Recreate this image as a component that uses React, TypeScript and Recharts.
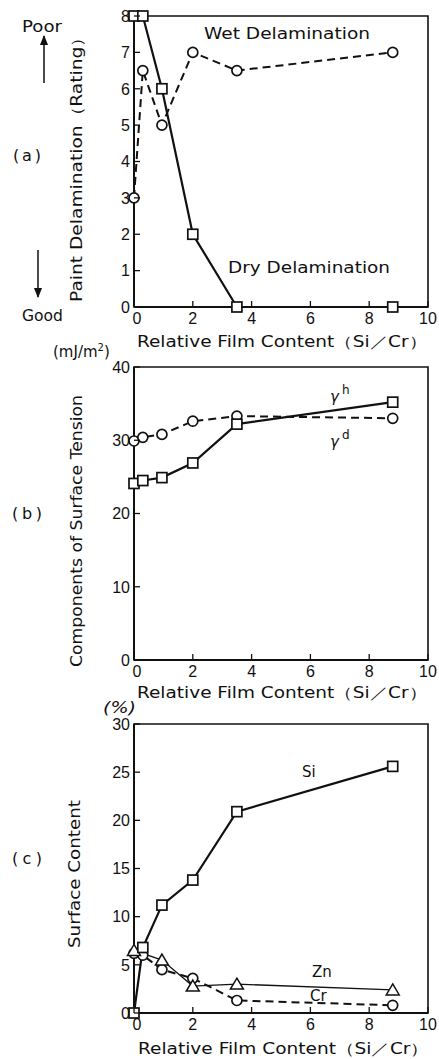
import { LineChart, Line, XAxis, YAxis, ReferenceArea } from "recharts";

// x positions shared by most series (relative film content Si/Cr)
const relContent = [0, 0.3, 0.95, 2, 3.5, 8.8];
const znRelContent = [0, 0.95, 2, 3.5, 8.8];

// (a) paint delamination rating
const dryDelamination = [8, 8, 6, 2, 0, 0];
const wetDelamination = [3, 6.5, 5, 7, 6.5, 7];

// (b) components of surface tension, mJ/m2
const gammaH = [24.1, 24.5, 24.9, 26.9, 32.2, 35.2];
const gammaD = [29.9, 30.4, 30.8, 32.6, 33.3, 33.0];

// (c) surface content, %
const siContent = [0, 6.8, 11.2, 13.8, 20.9, 25.6];
const znContent = [6.5, 5.5, 2.8, 3.0, 2.4];
const crContent = [6.2, 6.0, 4.5, 3.6, 1.3, 0.8];

const xTicks = [0, 2, 4, 6, 8, 10];
const ticksA = [0, 1, 2, 3, 4, 5, 6, 7, 8];
const ticksB = [0, 10, 20, 30, 40];
const ticksC = [0, 5, 10, 15, 20, 25, 30];

const xTitle = "Relative Film Content（Si／Cr）";

const INK = "#111";
const TICK_FONT = "'Liberation Sans', Arial, sans-serif";
const TEXT_FONT = "'DejaVu Sans', sans-serif";
const TM = 4;

const pts = (xs: number[], ys: number[]) => xs.map((x, i) => ({ x, y: ys[i] }));

const Square = (p: any) => (
  <rect key={p.key} x={p.cx - 5} y={p.cy - 5} width={10} height={10} fill="#fff" stroke={INK} strokeWidth={1.7} />
);
const Circle = (p: any) => (
  <circle key={p.key} cx={p.cx} cy={p.cy} r={5} fill="#fff" stroke={INK} strokeWidth={1.7} />
);
const Triangle = (p: any) => (
  <path
    key={p.key}
    d={`M${p.cx},${p.cy - 6} L${p.cx + 6.5},${p.cy + 5} L${p.cx - 6.5},${p.cy + 5} Z`}
    fill="#fff"
    stroke={INK}
    strokeWidth={1.5}
  />
);

const LeftTick = (p: any) => {
  const ax = p.x + TM;
  return (
    <g>
      <line x1={ax} x2={ax + 6} y1={p.y} y2={p.y} stroke={INK} strokeWidth={1.3} />
      <text x={p.x} y={p.y} dy="0.36em" textAnchor="end" fontFamily={TICK_FONT} fontSize={16} fill={INK}>
        {p.payload.value}
      </text>
    </g>
  );
};

const BottomTick = (p: any) => {
  const ay = p.y - TM;
  return (
    <g>
      <line x1={p.x} x2={p.x} y1={ay} y2={ay - 6} stroke={INK} strokeWidth={1.3} />
      <text x={p.x + (p.payload.value === 0 ? 3 : 0)} y={p.y} dy="0.8em" textAnchor="middle" fontFamily={TICK_FONT} fontSize={16} fill={INK}>
        {p.payload.value}
      </text>
    </g>
  );
};

function Panel({
  top,
  height,
  marginTop,
  marginBottom,
  yMax,
  yTicks,
  children,
}: {
  top: number;
  height: number;
  marginTop: number;
  marginBottom: number;
  yMax: number;
  yTicks: number[];
  children: any;
}) {
  return (
    <div style={{ position: "absolute", left: 0, top }}>
      <LineChart width={439} height={height} margin={{ top: marginTop, right: 11, bottom: marginBottom, left: 60 }}>
        <XAxis
          type="number"
          dataKey="x"
          domain={[0, 10]}
          ticks={xTicks}
          tickSize={0}
          tickMargin={TM}
          tick={BottomTick}
          height={30}
          axisLine={{ stroke: INK, strokeWidth: 2 }}
          allowDuplicatedCategory={false}
        />
        <YAxis
          type="number"
          dataKey="y"
          domain={[0, yMax]}
          ticks={yTicks}
          tickSize={0}
          tickMargin={TM}
          tick={LeftTick}
          width={74}
          axisLine={{ stroke: INK, strokeWidth: 2 }}
        />
        <ReferenceArea x1={0} x2={10} y1={0} y2={yMax} fill="none" stroke={INK} strokeWidth={1.6} ifOverflow="visible" />
        {children}
      </LineChart>
    </div>
  );
}

export default function App() {
  return (
    <div style={{ position: "absolute", left: 0, top: 0, width: 439, height: 1059, background: "#fff" }}>
      <Panel top={0} height={350} marginTop={16} marginBottom={13} yMax={8} yTicks={ticksA}>
        <Line data={pts(relContent, wetDelamination)} dataKey="y" stroke={INK} strokeWidth={2} strokeDasharray="8 5" dot={Circle} isAnimationActive={false} />
        <Line data={pts(relContent, dryDelamination)} dataKey="y" stroke={INK} strokeWidth={2.2} dot={Square} isAnimationActive={false} />
      </Panel>
      <Panel top={355} height={355} marginTop={12} marginBottom={20} yMax={40} yTicks={ticksB}>
        <Line data={pts(relContent, gammaD)} dataKey="y" stroke={INK} strokeWidth={2} strokeDasharray="8 5" dot={Circle} isAnimationActive={false} />
        <Line data={pts(relContent, gammaH)} dataKey="y" stroke={INK} strokeWidth={2.2} dot={Square} isAnimationActive={false} />
      </Panel>
      <Panel top={710} height={349} marginTop={14} marginBottom={16} yMax={30} yTicks={ticksC}>
        <Line data={pts(relContent, crContent)} dataKey="y" stroke={INK} strokeWidth={2} strokeDasharray="8 5" dot={Circle} isAnimationActive={false} />
        <Line data={pts(znRelContent, znContent)} dataKey="y" stroke={INK} strokeWidth={1.3} dot={Triangle} isAnimationActive={false} />
        <Line data={pts(relContent, siContent)} dataKey="y" stroke={INK} strokeWidth={2.2} dot={Square} isAnimationActive={false} />
      </Panel>

      <svg width={439} height={1059} style={{ position: "absolute", left: 0, top: 0, pointerEvents: "none" }} fontFamily={TEXT_FONT} fill={INK}>
        <defs>
          <marker id="ah" viewBox="0 0 10 10" refX="9" refY="5" markerWidth="7" markerHeight="9" orient="auto">
            <path d="M0,1 L10,5 L0,9 Z" fill={INK} />
          </marker>
        </defs>
        {/* side notes */}
        <text x={22} y={27} dy="0.35em" fontSize={15} textLength={40} lengthAdjust="spacingAndGlyphs">Poor</text>
        <line x1={44} y1={83} x2={44} y2={36} stroke={INK} strokeWidth={1.5} markerEnd="url(#ah)" />
        <line x1={38} y1={250} x2={38} y2={297} stroke={INK} strokeWidth={1.5} markerEnd="url(#ah)" />
        <text x={22} y={316} dy="0.35em" fontSize={15} textLength={41} lengthAdjust="spacingAndGlyphs">Good</text>
        <text x={13} y={155} dy="0.35em" fontSize={16} textLength={28} lengthAdjust="spacing">(a)</text>
        <text x={12} y={513} dy="0.35em" fontSize={16} textLength={30} lengthAdjust="spacing">(b)</text>
        <text x={12} y={858} dy="0.35em" fontSize={16} textLength={30} lengthAdjust="spacing">(c)</text>

        {/* axis titles */}
        <text transform="translate(77,165) rotate(-90)" dy="0.35em" textAnchor="middle" fontSize={15} textLength={274} lengthAdjust="spacingAndGlyphs">
          Paint Delamination（Rating）
        </text>
        <text transform="translate(77,531) rotate(-90)" dy="0.35em" textAnchor="middle" fontSize={15} textLength={272} lengthAdjust="spacingAndGlyphs">
          Components of Surface Tension
        </text>
        <text transform="translate(75,874) rotate(-90)" dy="0.35em" textAnchor="middle" fontSize={15} textLength={148} lengthAdjust="spacingAndGlyphs">
          Surface Content
        </text>
        <text x={137} y={342} dy="0.35em" fontSize={15} textLength={290} lengthAdjust="spacingAndGlyphs">{xTitle}</text>
        <text x={137} y={693} dy="0.35em" fontSize={15} textLength={290} lengthAdjust="spacingAndGlyphs">{xTitle}</text>
        <text x={138} y={1049} dy="0.35em" fontSize={15} textLength={291} lengthAdjust="spacingAndGlyphs">{xTitle}</text>
        <text x={53} y={352} dy="0.35em" fontSize={15}>
          (mJ/m<tspan dy="-6" fontSize={10}>2</tspan><tspan dy="6">)</tspan>
        </text>
        <text x={103} y={708} dy="0.35em" fontSize={15} fontStyle="italic" textLength={33} lengthAdjust="spacingAndGlyphs">(%)</text>

        {/* series labels */}
        <text x={204} y={34} dy="0.35em" fontSize={15} textLength={166} lengthAdjust="spacingAndGlyphs">Wet Delamination</text>
        <text x={228} y={268} dy="0.35em" fontSize={15} textLength={162} lengthAdjust="spacingAndGlyphs">Dry Delamination</text>
        <text x={330} y={397} dy="0.35em" fontSize={15} fontStyle="italic">
          γ<tspan dx="3" dy="-8" fontSize={12} fontStyle="normal">h</tspan>
        </text>
        <text x={330} y={442} dy="0.35em" fontSize={15} fontStyle="italic">
          γ<tspan dx="3" dy="-8" fontSize={12} fontStyle="normal">d</tspan>
        </text>
        <text x={302} y={772} dy="0.35em" fontSize={15}>Si</text>
        <text x={312} y={972} dy="0.35em" fontSize={15}>Zn</text>
        <text x={310} y={996} dy="0.35em" fontSize={15}>Cr</text>
      </svg>
    </div>
  );
}
